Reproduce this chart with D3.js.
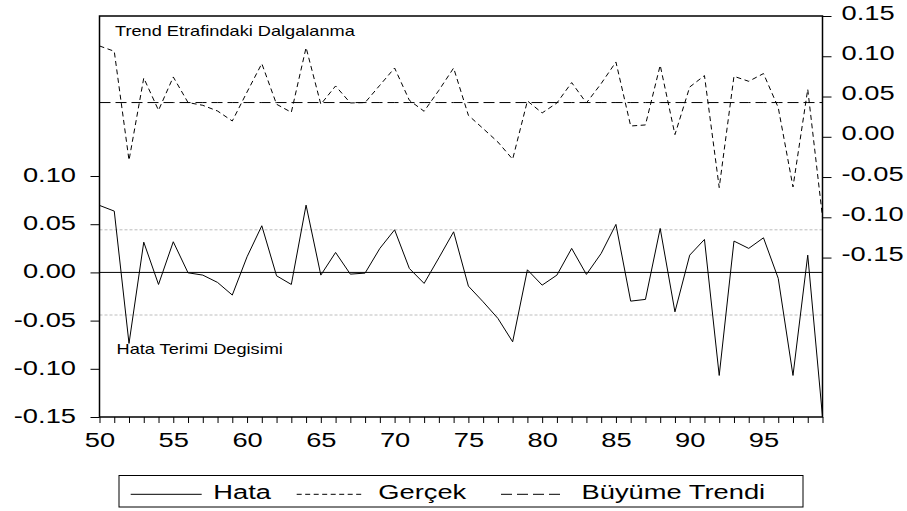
<!DOCTYPE html>
<meta charset="utf-8" />
<style>
    body { margin: 0; background: #fff; }
    text { font-family: "Liberation Sans", Arial, sans-serif; fill: #000; }
    .axis path, .axis line { stroke: #000; }
</style>
<svg width="907" height="511"></svg>
<script src="https://cdn.jsdelivr.net/npm/d3@7"></script>
<script>
    // years 1950-1999, shown as 50..99
    var years = d3.range(50, 100);

    // residuals (left axis)
    var hata = [
        0.0695, 0.0636, -0.0737, 0.0314, -0.0125, 0.0318, -0.0004, -0.0028, -0.0104, -0.0235,
        0.0162, 0.0484, -0.0035, -0.0125, 0.0698, -0.0028, 0.0207, -0.0018, -0.0007, 0.0249,
        0.0442, 0.0041, -0.0114, 0.0151, 0.0421, -0.0142, -0.0305, -0.0477, -0.0720, 0.0027,
        -0.0132, -0.0028, 0.0249, -0.0021, 0.0197, 0.0498, -0.0298, -0.0280, 0.0456, -0.0409,
        0.0179, 0.0342, -0.1069, 0.0325, 0.0249, 0.0359, -0.0062, -0.1069, 0.0179, -0.1498
    ];

    // actual (right axis)
    var gercek = [
        0.1128, 0.1062, -0.0292, 0.0730, 0.0329, 0.0743, 0.0425, 0.0391, 0.0320, 0.0196,
        0.0556, 0.0909, 0.0404, 0.0304, 0.1108, 0.0404, 0.0631, 0.0420, 0.0425, 0.0640,
        0.0854, 0.0453, 0.0317, 0.0577, 0.0854, 0.0267, 0.0102, -0.0065, -0.0279, 0.0445,
        0.0296, 0.0420, 0.0673, 0.0420, 0.0661, 0.0929, 0.0134, 0.0147, 0.0888, 0.0027,
        0.0618, 0.0760, -0.0631, 0.0751, 0.0689, 0.0785, 0.0363, -0.0623, 0.0590, -0.0996
    ];

    // fitted trend (right axis), constant
    var trend = [
        0.0425, 0.0425, 0.0425, 0.0425, 0.0425, 0.0425, 0.0425, 0.0425, 0.0425, 0.0425,
        0.0425, 0.0425, 0.0425, 0.0425, 0.0425, 0.0425, 0.0425, 0.0425, 0.0425, 0.0425,
        0.0425, 0.0425, 0.0425, 0.0425, 0.0425, 0.0425, 0.0425, 0.0425, 0.0425, 0.0425,
        0.0425, 0.0425, 0.0425, 0.0425, 0.0425, 0.0425, 0.0425, 0.0425, 0.0425, 0.0425,
        0.0425, 0.0425, 0.0425, 0.0425, 0.0425, 0.0425, 0.0425, 0.0425, 0.0425, 0.0425
    ];

    var stdErr = 0.0442;
    var leftTicks = [-0.15, -0.10, -0.05, 0.00, 0.05, 0.10];
    var rightTicks = [-0.15, -0.10, -0.05, 0.00, 0.05, 0.10, 0.15];
    var xLabels = [50, 55, 60, 65, 70, 75, 80, 85, 90, 95];
    var legendNames = ["Hata", "Gerçek", "Büyüme Trendi"];

    var svg = d3.select("svg");
    // plot box (note: "top" is reserved on window, so use other names)
    var plotL = 99.5, plotR = 822.5, plotT = 16, plotB = 417;
    var stretch = "scale(1.3,1)";

    var x = d3.scaleLinear().domain([50, 99]).range([plotL, plotR]);
    var yL = d3.scaleLinear().domain([-0.15, 0.266]).range([plotB, plotT]);
    var yR = d3.scaleLinear().domain([-0.348, 0.15]).range([plotB, plotT]);

    // plain hyphen minus, like the original
    function fmt(d) {
        return Math.abs(d) < 1e-9 ? "0.00" : d.toFixed(2);
    }

    // reference lines for residual
    svg.append("line")
        .attr("x1", plotL).attr("x2", plotR)
        .attr("y1", yL(0)).attr("y2", yL(0))
        .attr("stroke", "#000").attr("stroke-width", 1);

    [stdErr, -stdErr].forEach(function (v) {
        svg.append("line")
            .attr("x1", plotL).attr("x2", plotR)
            .attr("y1", yL(v)).attr("y2", yL(v))
            .attr("stroke", "#bdbdbd").attr("stroke-width", 1)
            .attr("stroke-dasharray", "3,2");
    });

    function lineFor(values, yScale) {
        return d3.line()
            .x(function (d, i) { return x(years[i]); })
            .y(function (d) { return yScale(d); })(values);
    }

    svg.append("path").attr("d", lineFor(trend, yR))
        .attr("fill", "none").attr("stroke", "#000").attr("stroke-width", 1)
        .attr("stroke-dasharray", "11,5");

    svg.append("path").attr("d", lineFor(gercek, yR))
        .attr("fill", "none").attr("stroke", "#000").attr("stroke-width", 1)
        .attr("stroke-dasharray", "5,3.5");

    svg.append("path").attr("d", lineFor(hata, yL))
        .attr("fill", "none").attr("stroke", "#000").attr("stroke-width", 1);

    // axes
    var gL = svg.append("g").attr("class", "axis")
        .attr("transform", "translate(" + plotL + ",0)")
        .call(d3.axisLeft(yL).tickValues(leftTicks).tickSize(9).tickFormat(fmt));
    gL.selectAll("text").attr("x", null).attr("dy", "0.26em")
        .attr("transform", "translate(-23.5,0) " + stretch);

    var gR = svg.append("g").attr("class", "axis")
        .attr("transform", "translate(" + plotR + ",0)")
        .call(d3.axisRight(yR).tickValues(rightTicks).tickSize(9).tickFormat(fmt));
    gR.selectAll("text").attr("x", null).attr("dy", "0.15em")
        .attr("transform", "translate(19,0) " + stretch);

    var gB = svg.append("g").attr("class", "axis")
        .attr("transform", "translate(0," + plotB + ")")
        .call(d3.axisBottom(x).tickValues(years).tickSize(6)
            .tickFormat(function (d) { return xLabels.indexOf(d) >= 0 ? d : ""; }));
    gB.selectAll("text").attr("y", null).attr("dy", null)
        .attr("transform", "translate(0,29.7) " + stretch);

    [gL, gR, gB].forEach(function (g) {
        g.select(".domain").remove();
        g.selectAll("text").style("font-size", "21px").style("font-family", null);
    });

    // frame
    svg.append("rect")
        .attr("x", plotL).attr("y", plotT)
        .attr("width", plotR - plotL).attr("height", plotB - plotT)
        .attr("fill", "none").attr("stroke", "#000").attr("stroke-width", 1.5);

    // annotations
    function label(txt, tx, ty, size) {
        svg.append("text")
            .attr("transform", "translate(" + tx + "," + ty + ") " + stretch)
            .style("font-size", size + "px")
            .text(txt);
    }
    label("Trend Etrafindaki Dalgalanma", 115, 36, 14);
    label("Hata Terimi Degisimi", 116.5, 354, 14);

    // legend
    svg.append("rect")
        .attr("x", 119).attr("y", 475.5)
        .attr("width", 684).attr("height", 31.5)
        .attr("fill", "none").attr("stroke", "#000").attr("stroke-width", 1);

    var legendItems = [
        { x1: 130.7, x2: 201.7, tx: 213.3, dash: null },
        { x1: 296.7, x2: 363.3, tx: 378.3, dash: "5,3.5" },
        { x1: 501, x2: 565, tx: 581.6, dash: "11,5" }
    ];
    legendItems.forEach(function (d, i) {
        svg.append("line")
            .attr("x1", d.x1).attr("x2", d.x2)
            .attr("y1", 494.3).attr("y2", 494.3)
            .attr("stroke", "#000").attr("stroke-width", 1)
            .attr("stroke-dasharray", d.dash);
        label(legendNames[i], d.tx, 499.3, 21);
    });
</script>
